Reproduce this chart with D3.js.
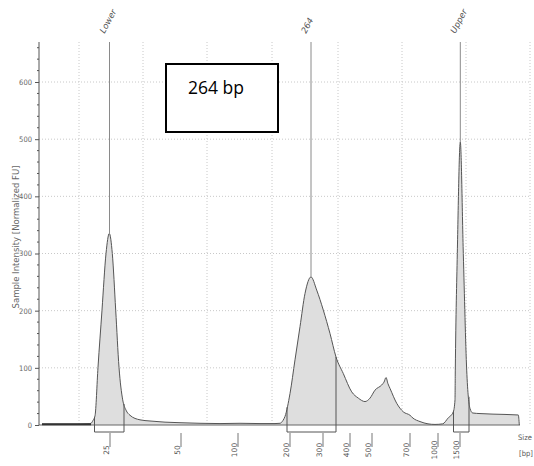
<!DOCTYPE html>
<html>
<head>
<meta charset="utf-8">
<script src="https://cdn.jsdelivr.net/npm/d3@7"></script>
<style>
  body { margin: 0; background: #fff; }
  svg { display: block; }
</style>
</head>
<body>
<div class="svg-container"></div>
<script>
// electropherogram trace: migration position (arbitrary units) vs intensity [normalized FU]
var tracePos = [3, 21, 41, 49, 52, 54, 56, 59, 63, 67, 70.3, 73.3, 76.7, 80, 83.7, 87, 91, 101, 111, 126, 141, 161, 181, 201, 221, 236, 241, 244, 246, 251, 256, 261, 266, 272, 277.7, 284.3, 291, 297, 304.3, 312.7, 319.3, 326, 331, 336, 342.7, 345, 347, 349, 351, 357.7, 364.3, 371, 374, 381, 389, 396, 403.7, 409, 414.3, 416, 416.3, 418.3, 421.3, 424.3, 427.7, 431, 433.7, 441, 454, 466, 473, 479.3, 480.3];
var traceVal = [1.5, 1.5, 1.5, 2, 3, 8, 16, 101, 201, 300, 335, 300, 201, 101, 44, 26, 17, 9, 7, 5, 4, 3, 2.5, 3, 2.5, 2.5, 3, 8, 15, 55, 114, 172, 230, 259, 236, 201, 160, 119, 90, 58, 47, 41, 47, 61, 70, 75, 83, 72, 64, 38, 23, 17, 12, 6, 2, 1, 2, 12, 23, 44, 96, 300, 495, 300, 96, 29, 21, 20, 19, 18.5, 18, 17.5, 0];

// ladder calibration: bp label and its migration position
var tickBp = ["25", "50", "100", "200", "300", "400", "500", "700", "1000", "1500"];
var tickPos = [71, 142, 199, 251, 284, 311, 333, 371, 399, 421];

// peaks: name, marker position, integration range
var peakNames = ["Lower", "264", "Upper"];
var peakPos = [70.5, 272, 421.3];
var peakFrom = [55.5, 248, 414.5];
var peakTo = [85, 297, 430];

var yTicks = [0, 100, 200, 300, 400, 500, 600];
var gridPos = [40, 104, 168, 233, 299, 363, 427, 491];

var W = 534, H = 466;
var svg1 = d3.select(".svg-container").append("svg")
    .attr("width", W)
    .attr("height", H);

var x = d3.scaleLinear().domain([0, 495]).range([39, 534]);
var y = d3.scaleLinear().domain([0, 670]).range([425, 42]);

var trace = tracePos.map(function(p, i) { return {p: p, v: traceVal[i]}; });

function valueAt(p) {
  for (var i = 1; i < trace.length; i++) {
    if (trace[i].p >= p) {
      var a = trace[i - 1], b = trace[i];
      var t = (p - a.p) / (b.p - a.p);
      return a.v + t * (b.v - a.v);
    }
  }
  return 0;
}

// grid
svg1.append("g").selectAll("line").data(yTicks.slice(1))
  .enter().append("line")
  .attr("x1", x(0)).attr("x2", x(491))
  .attr("y1", function(d) { return y(d); })
  .attr("y2", function(d) { return y(d); })
  .attr("stroke", "#c8c8c8")
  .attr("stroke-dasharray", "1,2");

svg1.append("g").selectAll("line").data(gridPos)
  .enter().append("line")
  .attr("x1", function(d) { return x(d); })
  .attr("x2", function(d) { return x(d); })
  .attr("y1", y(670)).attr("y2", y(0))
  .attr("stroke", "#c8c8c8")
  .attr("stroke-dasharray", "1,2");

// filled trace
var area = d3.area()
  .x(function(d) { return x(d.p); })
  .y0(y(0))
  .y1(function(d) { return y(d.v); })
  .curve(d3.curveMonotoneX);
var line = d3.line()
  .x(function(d) { return x(d.p); })
  .y(function(d) { return y(d.v); })
  .curve(d3.curveMonotoneX);

svg1.append("path").datum(trace)
  .attr("d", area)
  .attr("fill", "#dedede");

// baseline
svg1.append("line")
  .attr("x1", x(0)).attr("x2", x(481))
  .attr("y1", y(0)).attr("y2", y(0))
  .attr("stroke", "#666").attr("stroke-width", 1);

svg1.append("path").datum(trace)
  .attr("d", line)
  .attr("fill", "none")
  .attr("stroke", "#555")
  .attr("stroke-width", 1);

// thick dark start of the trace
svg1.append("line")
  .attr("x1", x(3)).attr("x2", x(52))
  .attr("y1", y(1.2)).attr("y2", y(1.2))
  .attr("stroke", "#333").attr("stroke-width", 2);

// integration brackets
var bracketY = 432;
peakNames.forEach(function(n, i) {
  var x0 = x(peakFrom[i]), x1 = x(peakTo[i]);
  svg1.append("path")
    .attr("d", "M" + x0 + "," + y(valueAt(peakFrom[i])) + "V" + bracketY + "H" + x1 + "V" + y(valueAt(peakTo[i])))
    .attr("fill", "none")
    .attr("stroke", "#555")
    .attr("stroke-width", 1);
});

// peak markers
peakNames.forEach(function(n, i) {
  var px = x(peakPos[i]);
  svg1.append("line")
    .attr("x1", px).attr("x2", px)
    .attr("y1", y(670)).attr("y2", y(valueAt(peakPos[i])))
    .attr("stroke", "#8a8a8a").attr("stroke-width", 1);
  svg1.append("text")
    .attr("transform", "translate(" + (px - 5) + "," + 34 + ") rotate(-62)")
    .attr("font-family", "DejaVu Sans, sans-serif")
    .attr("font-style", "italic")
    .attr("font-size", "8.5px")
    .attr("fill", "#555")
    .text(n);
});

// y axis
var yAxis = d3.axisLeft(y).tickValues(yTicks).tickSize(4).tickPadding(3);
var gy = svg1.append("g").attr("transform", "translate(" + x(0) + ",0)").call(yAxis);
gy.select(".domain").attr("stroke", "#555").attr("d", "M0," + y(670) + "V" + y(0));
gy.selectAll(".tick line").attr("stroke", "#555");
gy.selectAll("text")
  .attr("font-family", "Liberation Sans Narrow, DejaVu Sans Condensed, sans-serif")
  .attr("font-size", "7.5px")
  .attr("fill", "#666");

var minor = d3.range(20, 670, 20).filter(function(d) { return d % 100 !== 0; });
svg1.append("g").selectAll("line").data(minor)
  .enter().append("line")
  .attr("x1", x(0) - 2).attr("x2", x(0))
  .attr("y1", function(d) { return y(d); })
  .attr("y2", function(d) { return y(d); })
  .attr("stroke", "#555");

svg1.append("text")
  .attr("transform", "translate(19," + 237 + ") rotate(-90)")
  .attr("text-anchor", "middle")
  .attr("font-family", "DejaVu Sans, sans-serif")
  .attr("font-size", "8.5px")
  .attr("fill", "#666")
  .text("Sample Intensity [Normalized FU]");

// x ticks (bp)
svg1.append("g").selectAll("line").data(tickPos)
  .enter().append("line")
  .attr("x1", function(d) { return x(d); })
  .attr("x2", function(d) { return x(d); })
  .attr("y1", 433).attr("y2", 447)
  .attr("stroke", "#777");

svg1.append("g").selectAll("text").data(tickBp)
  .enter().append("text")
  .attr("transform", function(d, i) { return "translate(" + (x(tickPos[i]) - 1.5) + ",450) rotate(-90)"; })
  .attr("text-anchor", "middle")
  .attr("font-family", "DejaVu Sans, sans-serif")
  .attr("font-size", "7.5px")
  .attr("fill", "#555")
  .text(function(d) { return d; });

svg1.append("text")
  .attr("x", 518).attr("y", 440)
  .attr("font-family", "Liberation Sans Narrow, DejaVu Sans Condensed, sans-serif")
  .attr("font-size", "7.5px")
  .attr("fill", "#555")
  .text("Size");
svg1.append("text")
  .attr("x", 519).attr("y", 456)
  .attr("font-family", "Liberation Sans Narrow, DejaVu Sans Condensed, sans-serif")
  .attr("font-size", "7.5px")
  .attr("fill", "#555")
  .text("[bp]");

// annotation box
svg1.append("rect")
  .attr("x", 166).attr("y", 64)
  .attr("width", 112).attr("height", 68)
  .attr("fill", "#fff")
  .attr("stroke", "#000")
  .attr("stroke-width", 2);
svg1.append("text")
  .attr("x", 188).attr("y", 94)
  .attr("font-family", "Open Sans, sans-serif")
  .attr("font-size", "17.5px")
  .attr("fill", "#000")
  .text("264 bp");
</script>
</body>
</html>
